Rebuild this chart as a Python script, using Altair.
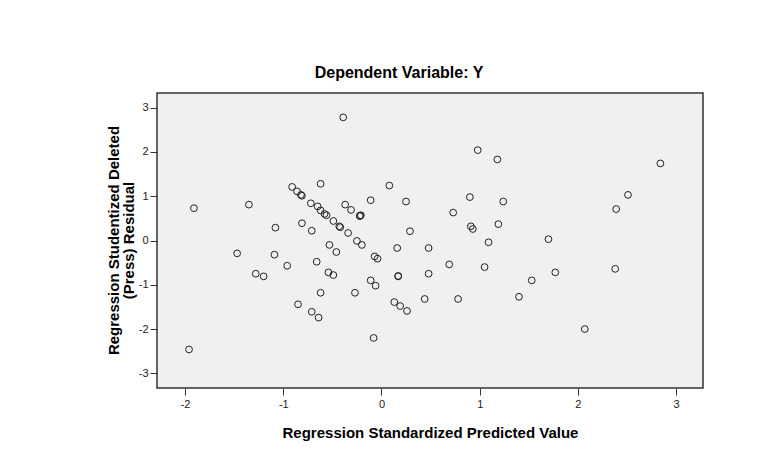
import altair as alt
import pandas as pd

# Regression standardized predicted value (x) and studentized deleted residual (y)
pred = [
    -0.39, -0.91, -0.86, -0.82, -0.81, -0.62, -1.91, -1.35, -0.72, -0.65,
    -0.62, -0.58, -0.56, -0.49, -0.43, -0.42, -0.37, -0.31, -0.22, -0.22,
    -0.21, -0.34, -0.25, -0.20, -1.08, -0.81, -0.71, -0.53, -1.47, -1.09,
    -0.96, -1.28, -1.20, -0.66, -0.46, -0.54, -0.49, -0.62, -0.27, -0.85,
    -0.71, -0.64, -1.96, 0.98, 1.18, 0.08, -0.11, 0.25, 0.90, 1.24,
    0.73, 0.29, 0.91, 0.93, 1.19, 1.09, 1.70, 0.16, 0.48, -0.07,
    -0.04, 0.69, 1.05, 0.17, 0.17, 0.48, 1.53, -0.11, -0.06, 0.13,
    0.19, 0.26, 0.44, 0.78, 1.40, -0.08, 2.84, 2.51, 2.39, 1.77,
    2.38, 2.07,
]
resid = [
    2.78, 1.21, 1.11, 1.03, 1.01, 1.28, 0.73, 0.81, 0.84, 0.77,
    0.68, 0.60, 0.57, 0.44, 0.32, 0.30, 0.81, 0.69, 0.56, 0.55,
    0.57, 0.17, -0.01, -0.10, 0.29, 0.39, 0.22, -0.10, -0.29, -0.32,
    -0.57, -0.75, -0.81, -0.48, -0.26, -0.72, -0.78, -1.18, -1.18, -1.44,
    -1.61, -1.74, -2.46, 2.04, 1.83, 1.24, 0.91, 0.88, 0.98, 0.88,
    0.63, 0.21, 0.32, 0.26, 0.37, -0.04, 0.03, -0.17, -0.17, -0.36,
    -0.41, -0.54, -0.60, -0.81, -0.80, -0.75, -0.90, -0.90, -1.02, -1.39,
    -1.48, -1.59, -1.32, -1.32, -1.27, -2.20, 1.74, 1.03, 0.71, -0.72,
    -0.64, -2.00,
]
x_ticks = [-2, -1, 0, 1, 2, 3]
y_ticks = [-3, -2, -1, 0, 1, 2, 3]

df = pd.DataFrame({"pred": pred, "resid": resid})

FONT = "Liberation Sans"

chart = (
    alt.Chart(df)
    .mark_point(shape="circle", filled=False, size=46, strokeWidth=1, color="#222222", opacity=1)
    .encode(
        x=alt.X(
            "pred:Q",
            scale=alt.Scale(domain=[-2.286, 3.274], nice=False, zero=False),
            axis=alt.Axis(
                values=x_ticks,
                labelExpr="datum.value + ''",
                title="Regression Standardized Predicted Value",
                titleFont=FONT,
                titleFontSize=15,
                titleFontWeight="bold",
                titleColor="#000000",
                titleBaseline="alphabetic",
                titleY=49,
                grid=False,
                domain=False,
                tickSize=7,
                tickColor="#333333",
                tickWidth=1,
                labelFont=FONT,
                labelFontSize=11,
                labelColor="#222222",
                labelPadding=3,
            ),
        ),
        y=alt.Y(
            "resid:Q",
            scale=alt.Scale(domain=[-3.33, 3.33], nice=False, zero=False),
            axis=alt.Axis(
                values=y_ticks,
                labelExpr="datum.value + ''",
                title=["Regression Studentized Deleted", "(Press) Residual"],
                titleFont=FONT,
                titleFontSize=15,
                titleFontWeight="bold",
                titleColor="#000000",
                titleLineHeight=15,
                titleX=-36,
                titleY=147,
                grid=False,
                domain=False,
                tickSize=7,
                tickColor="#333333",
                tickWidth=1,
                labelFont=FONT,
                labelFontSize=11,
                labelColor="#222222",
                labelPadding=2,
            ),
        ),
    )
    .properties(
        width=546,
        height=295,
        title=alt.TitleParams(
            "Dependent Variable: Y",
            font=FONT,
            fontSize=16,
            fontWeight="bold",
            color="#000000",
            baseline="alphabetic",
            offset=15,
            dx=-31,
            dy=16,
        ),
        autosize=alt.AutoSizeParams(type="none"),
        padding={"left": 149, "top": 85, "right": 55, "bottom": 70},
        background="#ffffff",
    )
    .configure_view(fill="#f0f0f0", stroke="#333333", strokeWidth=1.5)
)

chart.save("out.html", embed_options={"renderer": "svg", "actions": False})
